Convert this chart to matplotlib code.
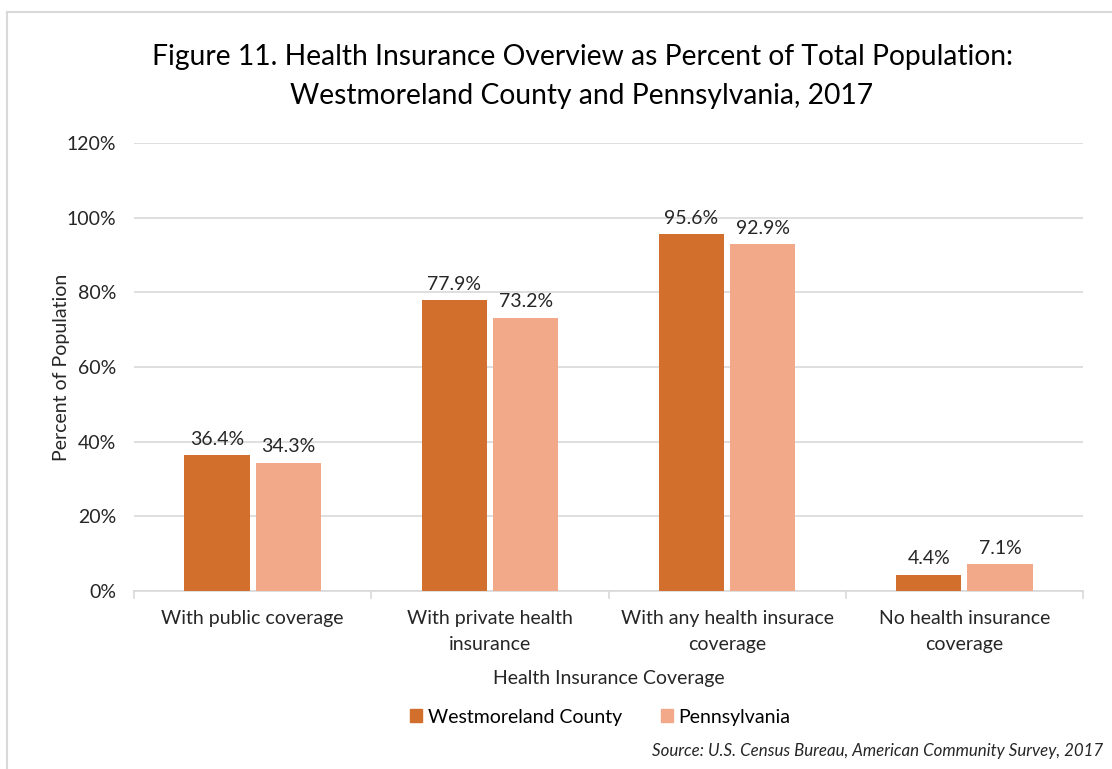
import matplotlib.pyplot as plt
import numpy as np
from matplotlib.lines import Line2D

categories = ["With public coverage", "With private health\ninsurance",
              "With any health insurace\ncoverage", "No health insurance\ncoverage"]
westmoreland = [36.4, 77.9, 95.6, 4.4]
pennsylvania = [34.3, 73.2, 92.9, 7.1]
series_names = ["Westmoreland County", "Pennsylvania"]

dark = "#D26F2C"
light = "#F1A98A"
grid_c = "#D9D9D9"
txt = "#262626"
fs = 14

plt.rcParams['font.family'] = ['Lato', 'DejaVu Sans']

fig = plt.figure(figsize=(11.12, 7.69), dpi=100)
ax = fig.add_axes([134/1112, 1 - 591/769, (1083 - 134)/1112, (591 - 143)/769])

x = np.arange(len(categories))
w = 0.275
gap = 0.013
b1 = ax.bar(x - w/2 - gap, westmoreland, w, color=dark, zorder=3)
b2 = ax.bar(x + w/2 + gap, pennsylvania, w, color=light, zorder=3)

for bars, vals in ((b1, westmoreland), (b2, pennsylvania)):
    for r, v in zip(bars, vals):
        ax.text(r.get_x() + r.get_width()/2, v + 2.0, f"{v:.1f}%",
                ha='center', va='bottom', fontsize=fs, color=txt)

ax.set_xlim(-0.5, len(categories) - 0.5)
ax.set_ylim(0, 120)
ax.set_yticks(range(0, 121, 20))
ax.set_yticklabels([f"{v}%" for v in range(0, 121, 20)], fontsize=fs, color=txt)
ax.tick_params(axis='y', length=0, pad=13)
ax.yaxis.grid(True, color=grid_c, linewidth=1.2, zorder=0)

ax.set_xticks(x)
ax.set_xticklabels(categories, fontsize=fs, color=txt, linespacing=1.6)
ax.tick_params(axis='x', length=0, pad=14)
for b in np.arange(-0.5, len(categories), 1.0):
    ax.plot([b, b], [0, -1.8], color=grid_c, lw=1.2, clip_on=False, zorder=2)

for s in ['top', 'right', 'left']:
    ax.spines[s].set_visible(False)
ax.spines['bottom'].set_color(grid_c)
ax.spines['bottom'].set_linewidth(1.2)

ax.set_ylabel("Percent of Population", fontsize=fs, color=txt)
ax.yaxis.set_label_coords((70 - 134)/949, 0.5)
ax.set_xlabel("Health Insurance Coverage", fontsize=fs, color=txt, labelpad=12)

fig.text(582/1112, 1 - 57/769, "Figure 11. Health Insurance Overview as Percent of Total Population:",
         ha='center', va='center', fontsize=20.3, color="#000000")
fig.text(582/1112, 1 - 96/769, "Westmoreland County and Pennsylvania, 2017",
         ha='center', va='center', fontsize=20.3, color="#000000")

handles = [plt.Rectangle((0, 0), 1, 1, color=dark), plt.Rectangle((0, 0), 1, 1, color=light)]
fig.legend(handles, series_names, loc='center', bbox_to_anchor=(0.54, 1 - 717/769),
           ncol=2, frameon=False, fontsize=fs, handlelength=0.6, handleheight=0.6,
           handletextpad=0.3, columnspacing=2.0)

fig.text(1103/1112, 1 - 751/769, "Source: U.S. Census Bureau, American Community Survey, 2017",
         ha='right', va='center', fontsize=12.2, style='italic', color=txt)

fig.add_artist(Line2D([7/1112, 7/1112], [0, 1 - 12/769], transform=fig.transFigure,
                      color="#D9D9D9", lw=1.5))
fig.add_artist(Line2D([7/1112, 1], [1 - 12/769, 1 - 12/769], transform=fig.transFigure,
                      color="#D9D9D9", lw=1.5))

fig.savefig("out.png", dpi=100)
